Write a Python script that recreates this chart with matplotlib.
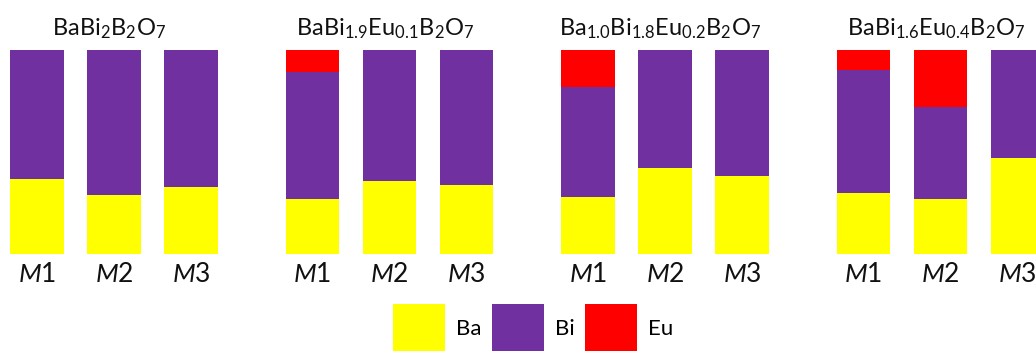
import matplotlib
matplotlib.use("Agg")
import matplotlib.pyplot as plt
from matplotlib.patches import Patch
import numpy as np

plt.rcParams["font.family"] = ["Lato", "DejaVu Sans"]
plt.rcParams["mathtext.fontset"] = "custom"
plt.rcParams["mathtext.rm"] = "Lato"
plt.rcParams["mathtext.it"] = "Lato:italic"
plt.rcParams["mathtext.bf"] = "Lato:bold"

# Compositions (relative fractions, %) measured at three spots per sample
samples = [
    r"BaBi$_{2}$B$_{2}$O$_{7}$",
    r"BaBi$_{1.9}$Eu$_{0.1}$B$_{2}$O$_{7}$",
    r"Ba$_{1.0}$Bi$_{1.8}$Eu$_{0.2}$B$_{2}$O$_{7}$",
    r"BaBi$_{1.6}$Eu$_{0.4}$B$_{2}$O$_{7}$",
]
spots = [r"$M$1", r"$M$2", r"$M$3"]

ba = [[37, 29, 33], [27, 36, 34], [28, 42, 38], [30, 27, 47]]
bi = [[63, 71, 67], [62, 64, 66], [54, 58, 62], [60, 45, 53]]
eu = [[0, 0, 0], [11, 0, 0], [18, 0, 0], [10, 28, 0]]

elements = ["Ba", "Bi", "Eu"]
colors = ["#FFFF00", "#7030A0", "#FF0000"]

W, H = 1036, 351
fig = plt.figure(figsize=(W / 100, H / 100), dpi=100)
ax = fig.add_axes([0, 97 / H, 1, 204 / H])

group_step = 3.578
bar_w = 0.69
x = np.array([g * group_step + i for g in range(len(samples)) for i in range(3)])

ba_v = np.array(ba).ravel()
bi_v = np.array(bi).ravel()
eu_v = np.array(eu).ravel()

ax.bar(x, ba_v, width=bar_w, color=colors[0], linewidth=0)
ax.bar(x, bi_v, width=bar_w, bottom=ba_v, color=colors[1], linewidth=0)
ax.bar(x, eu_v, width=bar_w, bottom=ba_v + bi_v, color=colors[2], linewidth=0)

for g, name in enumerate(samples):
    ax.text(g * group_step + 1 - 0.06, 107.4, name, ha="center", va="baseline",
            fontsize=17, color="#111111")

ax.set_xticks(x)
ax.set_xticklabels(spots * len(samples), fontsize=19, color="#111111")
ax.tick_params(axis="x", length=0, pad=6)
ax.set_yticks([])
for s in ax.spines.values():
    s.set_visible(False)
ax.set_xlim(-37 / 77, (W - 37) / 77)
ax.set_ylim(0, 100)

handles = [Patch(facecolor=c, edgecolor="none", label=e) for c, e in zip(colors, elements)]
fig.legend(handles=handles, loc="center", bbox_to_anchor=(533 / W, 23 / H),
           ncol=3, frameon=False, fontsize=16, handlelength=2.35, handleheight=2.9,
           handletextpad=0.5, columnspacing=0.45, borderpad=0, borderaxespad=0)

fig.savefig("out.png", dpi=100)
